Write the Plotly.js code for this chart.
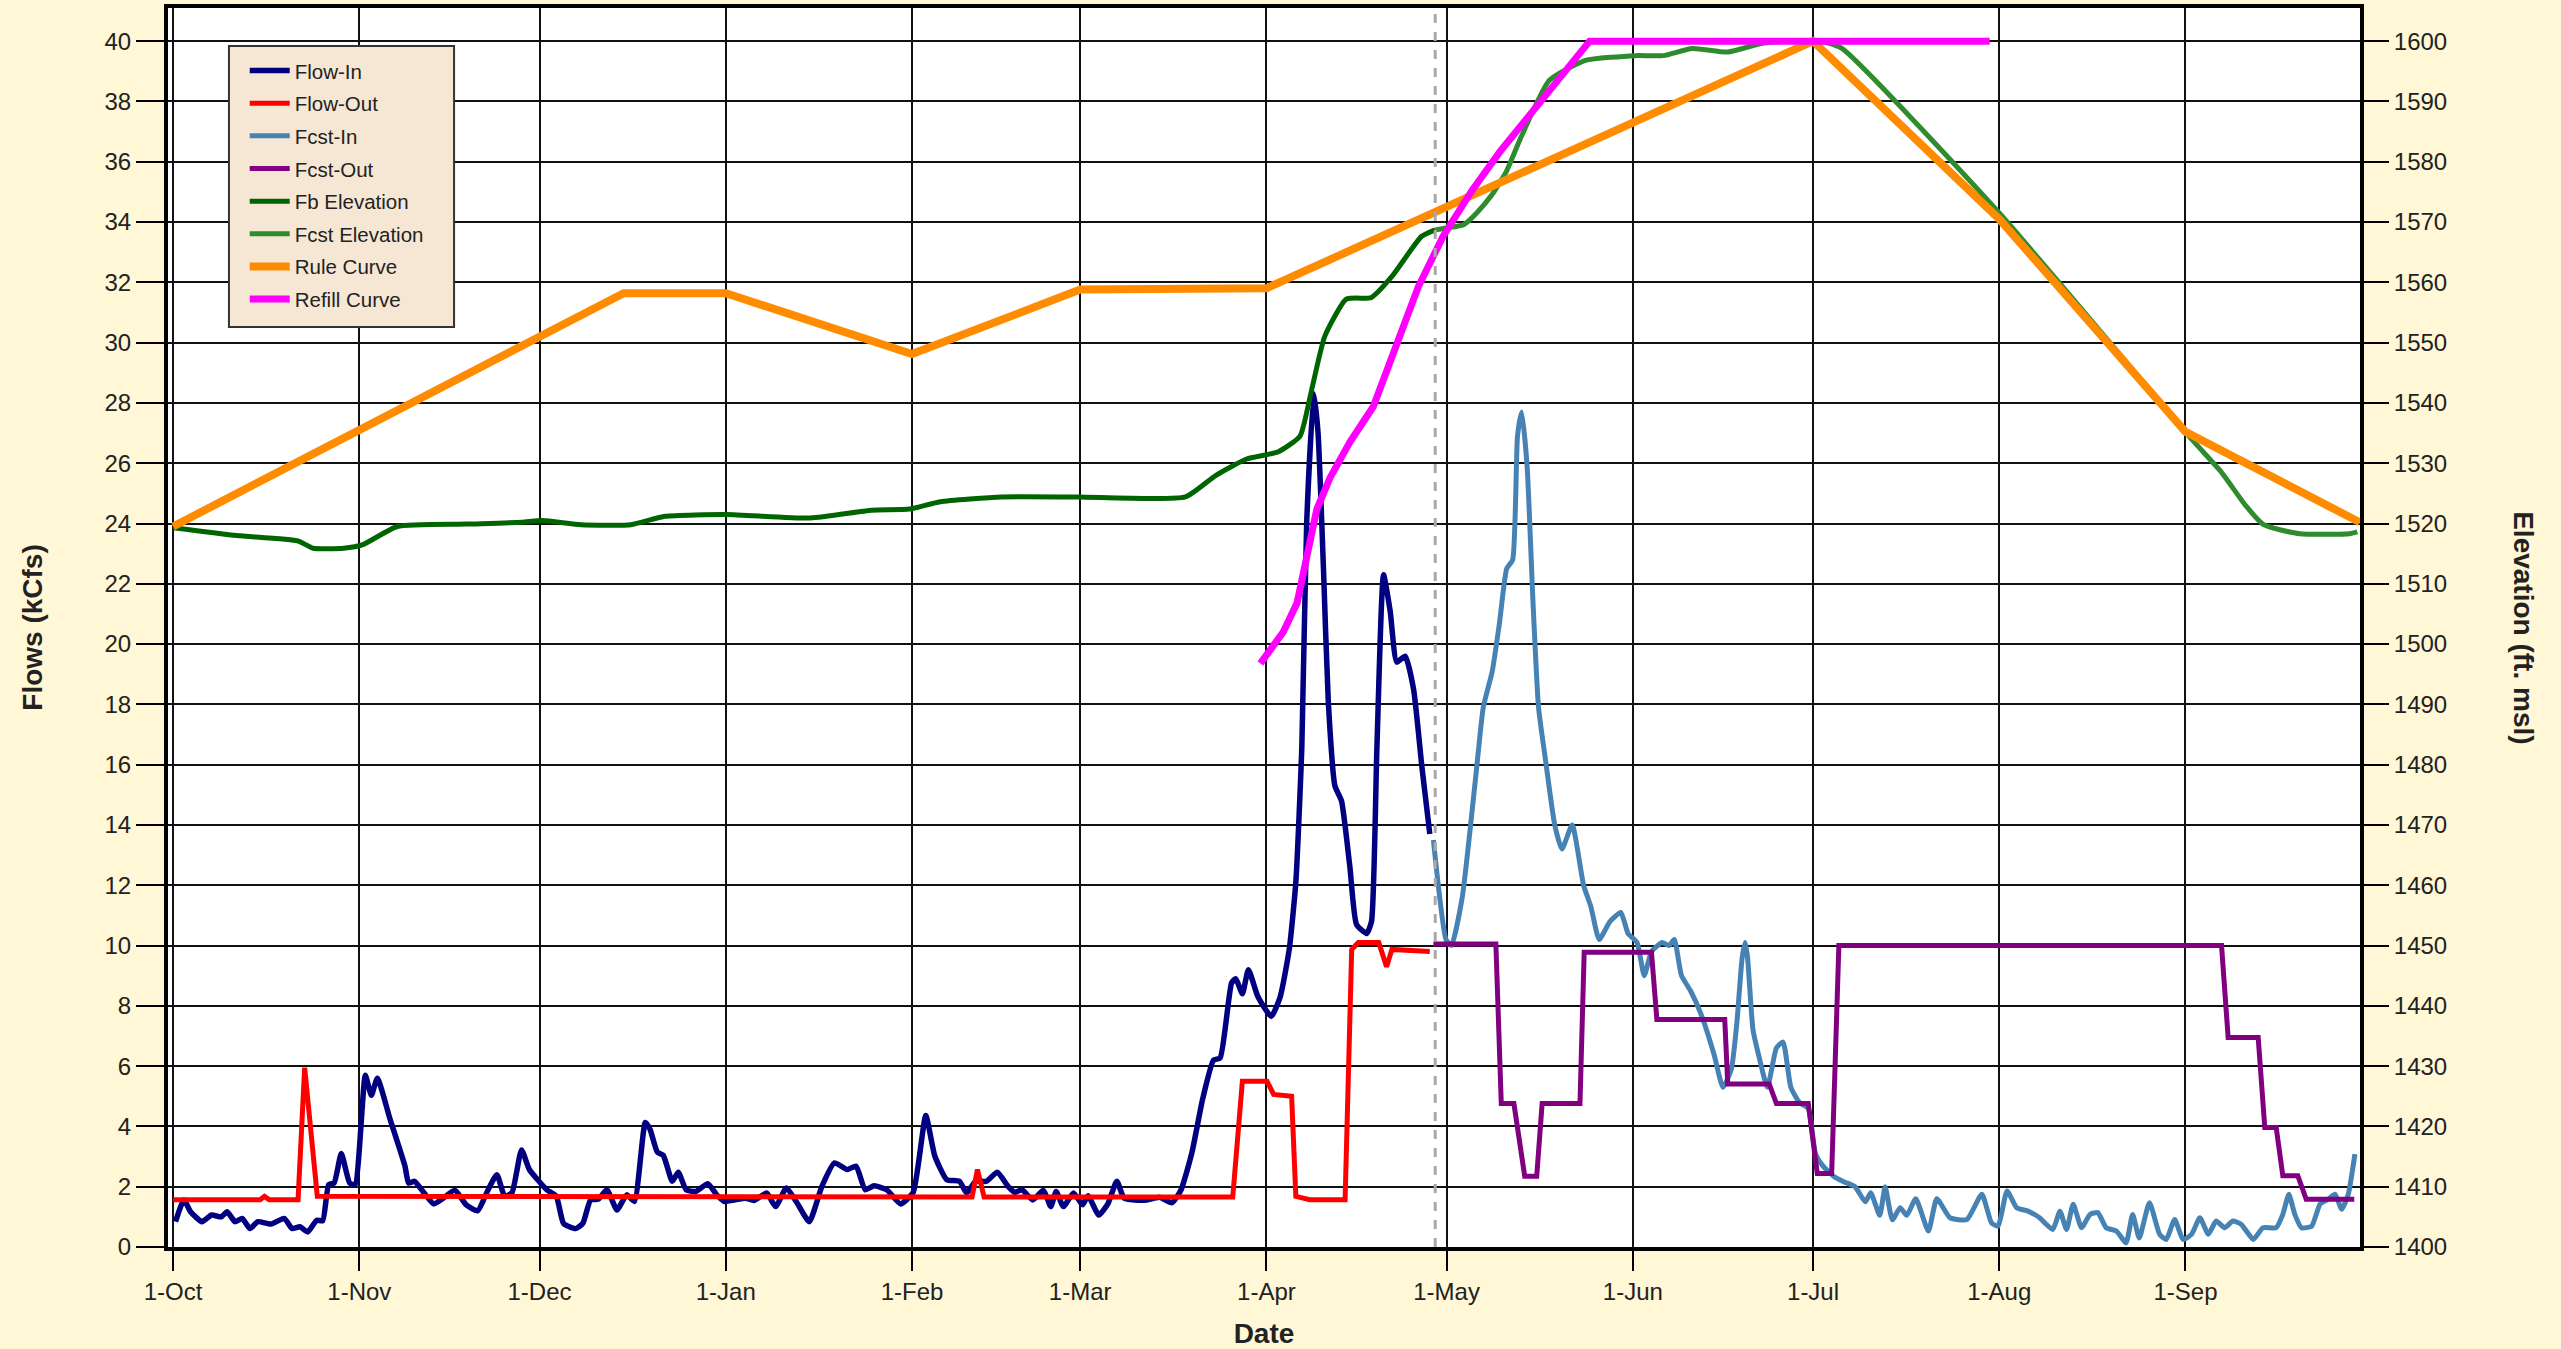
<!DOCTYPE html>
<html>
<head>
<meta charset="utf-8">
<script src="https://cdn.plot.ly/plotly-3.0.1.min.js"></script>
<style>
  html, body { margin: 0; padding: 0; background: #FFF7D6; }
  #chart { width: 2561px; height: 1349px; }
</style>
</head>
<body>
<div id="chart"></div>
<script>
// ---- Data (day offsets from 1-Oct of the water year) ----
const BASE_DATE = Date.UTC(2018, 9, 1);

const flowInDays = [0.4,1.8,2.9,4.8,6.4,8.0,9.0,10.3,11.5,12.8,14.1,16.3,18.5,19.8,21.1,22.4,23.9,24.9,25.9,26.8,28.0,29.4,30.3,32.0,33.0,34.0,36.1,38.6,39.2,40.2,41.8,43.4,45.0,46.9,48.8,50.7,52.3,53.9,55.2,56.4,58.0,59.3,60.9,62.2,63.8,65.0,67.0,68.2,69.5,70.8,72.2,73.9,75.5,76.8,78.6,79.4,80.6,81.6,83.1,84.1,85.4,87.0,89.0,90.5,91.8,93.4,95.3,96.7,98.8,100.3,102.1,103.9,105.9,108.0,110.1,112.2,113.7,115.2,116.7,118.8,121.1,123.2,125.3,126.8,128.8,130.9,132.1,133.6,135.4,137.2,139.0,140.1,141.3,143.1,144.9,146.1,147.0,148.2,149.9,151.4,152.3,154.1,155.6,157.1,158.3,160.1,162.1,164.2,166.3,167.8,169.6,171.4,173.2,174.3,176.2,176.9,178.0,179.0,180.6,182.8,184.3,185.8,186.9,187.9,188.7,189.9,190.6,191.5,192.3,193.4,194.5,195.9,197.0,198.7,199.5,200.4,201.5,202.6,203.7,205.1,206.5,207.9,209.2];
const flowInVals = [0.84,1.56,1.17,0.84,1.06,1.0,1.17,0.84,0.95,0.61,0.84,0.76,0.95,0.61,0.67,0.5,0.89,0.87,2.07,2.12,3.1,2.12,2.07,5.7,5.03,5.6,4.25,2.68,2.12,2.18,1.79,1.43,1.62,1.88,1.4,1.2,1.84,2.4,1.68,1.8,3.22,2.57,2.18,1.9,1.68,0.78,0.61,0.78,1.56,1.59,1.9,1.23,1.73,1.51,4.13,3.9,3.15,3.04,2.18,2.48,1.9,1.84,2.1,1.73,1.51,1.56,1.62,1.54,1.79,1.34,1.96,1.45,0.84,2.01,2.79,2.57,2.68,1.9,2.03,1.9,1.43,1.81,4.36,3.02,2.23,2.18,1.79,2.18,2.18,2.48,2.01,1.81,1.9,1.56,1.88,1.34,1.84,1.34,1.79,1.4,1.7,1.06,1.43,2.18,1.62,1.56,1.56,1.65,1.47,1.9,3.13,4.92,6.2,6.27,8.76,8.9,8.4,9.2,8.3,7.65,8.3,9.87,12.1,16.6,24.0,28.3,27.0,22.5,18.1,15.3,14.8,12.6,10.7,10.4,10.8,16.6,22.3,21.1,19.4,19.6,18.5,15.9,13.7];

const flowOutDays = [0,14.5,15.2,16.0,20.8,21.9,24.0,133.0,133.9,135.0,176.4,178.0,182.1,183.2,186.2,186.9,189.2,195.1,196.2,197.3,200.7,202.0,202.9,209.2];
const flowOutVals = [1.57,1.57,1.68,1.57,1.57,5.95,1.68,1.66,2.57,1.66,1.66,5.5,5.5,5.06,5.0,1.68,1.57,1.57,9.87,10.1,10.1,9.3,9.87,9.8];

const fcstInDays = [209.8,211.9,212.8,214.6,216.9,218.1,219.6,220.8,222.0,223.0,223.8,224.5,225.4,226.4,227.3,228.5,230.0,231.2,232.9,234.8,236.0,237.4,239.2,241.0,242.2,243.7,244.9,246.1,247.9,249.0,249.9,251.1,252.6,254.4,256.5,258.0,259.4,260.3,261.2,261.7,262.1,263.0,263.9,265.4,266.9,268.0,269.3,270.7,272.2,273.4,274.6,276.4,278.2,280.0,281.7,282.6,284.1,285.0,286.2,287.5,288.6,290.1,292.2,293.6,295.8,298.6,301.1,302.7,303.8,305.3,306.9,308.8,310.7,312.9,314.1,315.2,316.3,317.7,319.1,320.4,321.8,323.5,325.1,326.2,327.3,329.0,330.7,331.8,333.2,334.6,336.0,337.4,338.8,340.1,341.5,342.9,344.3,346.3,347.9,350.1,351.2,352.2,353.2,354.3,356.0,357.4,358.7,359.9,361.0,362.1,363.2];
const fcstInVals = [13.5,10.2,10.0,11.6,15.7,17.9,19.1,20.7,22.5,22.8,26.9,27.7,25.9,21.3,17.9,16.1,14.0,13.2,14.0,12.0,11.3,10.2,10.8,11.1,10.4,10.1,9.0,9.8,10.1,10.0,10.2,9.0,8.5,7.7,6.4,5.3,5.9,7.4,9.6,10.1,9.6,7.2,6.4,5.3,6.6,6.8,5.3,4.8,4.6,3.1,2.7,2.35,2.16,2.0,1.5,1.8,1.05,2.0,0.9,1.3,1.05,1.6,0.53,1.6,0.97,0.91,1.75,0.8,0.69,1.86,1.3,1.19,0.97,0.58,1.19,0.58,1.42,0.64,1.08,1.14,0.64,0.53,0.14,1.08,0.3,1.47,0.42,0.25,0.91,0.25,0.42,0.97,0.42,0.86,0.64,0.86,0.75,0.25,0.64,0.64,1.08,1.75,1.08,0.64,0.69,1.42,1.58,1.75,1.25,1.75,3.08];

const fcstOutDays = [209.8,220.2,221.1,223.2,225.0,227.0,227.9,234.2,234.9,246.1,247.0,258.3,258.8,265.7,266.9,272.2,273.7,276.1,277.3,341.0,342.1,347.1,348.2,350.1,351.2,353.7,355.1,363.1];
const fcstOutVals = [10.05,10.05,4.76,4.76,2.35,2.35,4.76,4.76,9.78,9.78,7.55,7.55,5.41,5.41,4.76,4.76,2.44,2.44,10.0,10.0,6.95,6.95,3.96,3.96,2.36,2.36,1.58,1.58];

const fbElevDays = [0,10.6,20.8,23.3,28.4,31.6,37.3,48.8,58.0,61.5,67.9,76.2,81.9,92.1,106.1,116.3,122.6,127.7,137.9,150.6,168.5,173.6,178.7,184.0,187.6,189.4,191.7,195.3,199.5,203.0,207.8,210.1];
const fbElevVals = [1519.3,1518.0,1517.1,1515.9,1515.9,1516.5,1519.5,1519.9,1520.2,1520.5,1519.8,1519.8,1521.2,1521.5,1520.9,1522.2,1522.4,1523.6,1524.4,1524.4,1524.4,1528.0,1530.7,1531.9,1534.5,1541.6,1551.0,1557.2,1557.5,1561.1,1567.6,1568.7];

const fcstElevDays = [210.1,211.9,214.9,217.0,219.6,222.0,224.4,229.1,235.1,243.4,248.1,252.9,258.8,264.8,274.3,277.8,304.0,336.1,340.9,345.0,348.0,354.0,362.3,363.6];
const fcstElevVals = [1568.7,1569.0,1569.6,1571.5,1574.6,1578.5,1584.1,1593.5,1596.8,1597.6,1597.6,1598.8,1598.2,1599.7,1600.0,1598.8,1571.5,1533.9,1528.6,1523.0,1519.8,1518.3,1518.3,1518.6];

const ruleDays = [0,75,92,123,151,182,273,304,335,364];
const ruleVals = [1519.5,1558.2,1558.2,1548.1,1558.8,1559.0,1600.0,1570.5,1535.2,1520.2];

const refillDays = [181.0,184.8,187.1,188.7,190.4,192.6,195.9,199.8,201.5,203.1,207.3,211.4,216.2,220.9,228.1,235.8,302.4];
const refillVals = [1496.8,1502.0,1506.8,1514.0,1522.4,1527.6,1533.5,1539.4,1544.0,1548.7,1559.3,1567.6,1575.2,1581.7,1590.6,1600.0,1600.0];

const todayDay = 210.1;
const monthTickDays = [0,31,61,92,123,151,182,212,243,273,304,335];

// ---- helpers ----
function toDate(d) {
  return new Date(BASE_DATE + d * 86400000).toISOString().slice(0, 19).replace('T', ' ');
}
const dates = arr => arr.map(toDate);

const FONT = 'Arial, "Liberation Sans", sans-serif';

function tr(name, xs, ys, axis, color, width, spline) {
  const line = {color: color, width: width};
  if (spline) { line.shape = 'spline'; line.smoothing = spline; }
  return {name: name, legendgroup: name, x: dates(xs), y: ys, yaxis: axis, mode: 'lines', line: line};
}

const traces = [
  tr('Flow-In', flowInDays, flowInVals, 'y', '#000080', 5.5, 0.5),
  tr('Flow-Out', flowOutDays, flowOutVals, 'y', '#FF0000', 5, 0),
  tr('Fcst-In', fcstInDays, fcstInVals, 'y', '#4682B4', 5, 0.5),
  tr('Fcst-Out', fcstOutDays, fcstOutVals, 'y', '#800080', 5, 0),
  tr('Fb Elevation', fbElevDays, fbElevVals, 'y2', '#006400', 5, 0.5),
  tr('Fcst Elevation', fcstElevDays, fcstElevVals, 'y2', '#2E8B2E', 5, 0.5),
  tr('Rule Curve', ruleDays, ruleVals, 'y2', '#FF8C00', 8, 0),
  tr('Refill Curve', refillDays, refillVals, 'y2', '#FF00FF', 7, 0)
];

const layout = {
  width: 2561,
  height: 1349,
  paper_bgcolor: '#FFF7D6',
  plot_bgcolor: '#FFFFFF',
  margin: {l: 168, r: 201, t: 8, b: 102},
  font: {family: FONT, size: 24, color: '#222222'},
  showlegend: true,
  legend: {
    x: 0.035, y: 0.9655, xanchor: 'left', yanchor: 'top',
    bgcolor: 'rgba(0,0,0,0)', borderwidth: 0,
    font: {family: FONT, size: 20.5, color: '#222222'},
    itemwidth: 40, tracegroupgap: 3
  },
  xaxis: {
    type: 'date',
    range: [toDate(-0.85), toDate(364.05)],
    tickvals: dates(monthTickDays),
    tickformat: '%-d-%b',
    ticks: 'outside', ticklen: 20, tickwidth: 2, tickcolor: '#000000',
    showgrid: true, gridcolor: '#111111', gridwidth: 2,
    showline: true, linecolor: '#000000', linewidth: 4, mirror: true,
    zeroline: false,
    tickfont: {family: FONT, size: 24, color: '#222222'},
    title: {text: 'Date', font: {family: FONT, size: 28, color: '#222222', weight: 'bold'}, standoff: 22}
  },
  yaxis: {
    range: [0, 41.1],
    dtick: 2, tick0: 0,
    ticks: 'outside', ticklen: 28, tickwidth: 2, tickcolor: '#000000',
    showgrid: true, gridcolor: '#111111', gridwidth: 2,
    showline: true, linecolor: '#000000', linewidth: 4, mirror: true,
    zeroline: false,
    tickfont: {family: FONT, size: 24, color: '#222222'},
    title: {text: 'Flows (kCfs)', font: {family: FONT, size: 28, color: '#222222', weight: 'bold'}, standoff: 55}
  },
  yaxis2: {
    overlaying: 'y', side: 'right',
    range: [1400, 1605.5],
    dtick: 10, tick0: 1400,
    ticks: 'outside', ticklen: 28, tickwidth: 2, tickcolor: '#000000',
    showgrid: false, zeroline: false, showline: false,
    tickfont: {family: FONT, size: 24, color: '#222222'}
  },
  shapes: [
    {type: 'line', xref: 'x', yref: 'paper', x0: toDate(todayDay), x1: toDate(todayDay), y0: 0, y1: 1,
     line: {color: '#A8A8A8', width: 3, dash: 'dash'}},
    {type: 'rect', xref: 'paper', yref: 'paper', x0: 0.0278, x1: 0.1305, y0: 0.7425, y1: 0.9693,
     fillcolor: '#F6E7D5', line: {color: '#333333', width: 2}, layer: 'above'}
  ],
  annotations: [
    {text: 'Elevation (ft. msl)', xref: 'paper', yref: 'paper', x: 1.0745, y: 0.5,
     xanchor: 'center', yanchor: 'middle', textangle: 90, showarrow: false,
     font: {family: FONT, size: 28, color: '#222222', weight: 'bold'}}
  ]
};

Plotly.newPlot('chart', traces, layout, {displayModeBar: false, staticPlot: true});
</script>
</body>
</html>
